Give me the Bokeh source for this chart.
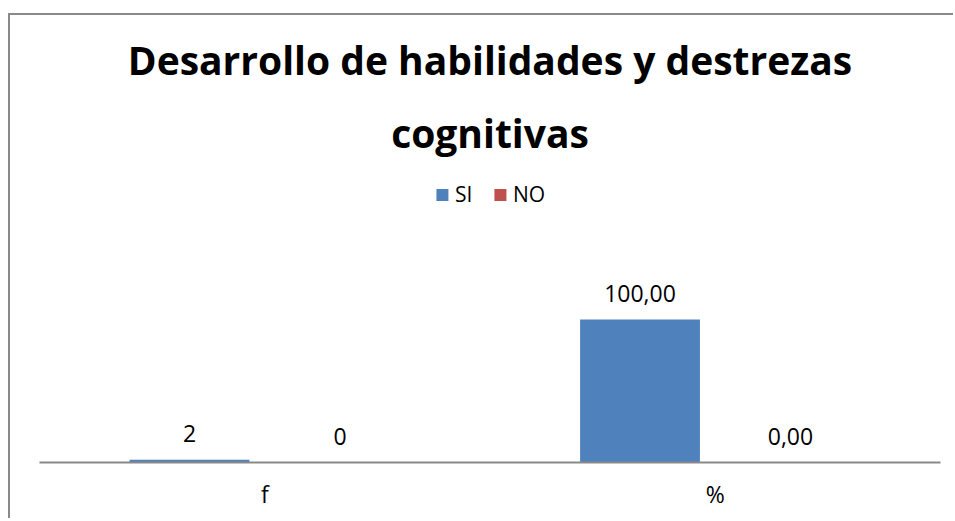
from bokeh.plotting import figure
from bokeh.models import (FactorRange, Range1d, ColumnDataSource, LabelSet, Legend,
                          LegendItem, Title)
from bokeh.core.properties import value
from bokeh.transform import dodge
from bokeh.embed import file_html
from bokeh.resources import INLINE

# ---- data ----
categories = ["f", "%"]
series_names = ["SI", "NO"]
si_values = [2, 100]
no_values = [0, 0]
si_labels = ["2", "100,00"]
no_labels = ["0", "0,00"]
title_lines = ["Desarrollo de habilidades y destrezas", "cognitivas"]

BLUE = "#4F81BD"
RED = "#C0504D"
GRAY = "#898989"
FONT = "Open Sans"

src = ColumnDataSource(dict(cat=categories, si=si_values, no=no_values,
                            si_lab=si_labels, no_lab=no_labels))

W, H = 945, 505
p = figure(width=W, height=H, x_range=FactorRange(*categories, range_padding=0),
           y_range=Range1d(0, 207.7), output_backend="svg", toolbar_location=None,
           min_border_left=29, min_border_right=15, min_border_top=150, min_border_bottom=58)
p.styles = {"position": "relative", "top": "15px", "left": "10px",
            "box-shadow": f"-2px -2px 0 0 {GRAY}"}

# titles (the one added last is the outermost)
t2 = Title(text=title_lines[1], align="center", text_font=FONT, text_font_style="bold",
           text_font_size="39px", text_color="black", standoff=14)
t1 = Title(text=title_lines[0], align="center", text_font=FONT, text_font_style="bold",
           text_font_size="39px", text_color="black", standoff=21)
p.title = None
p.add_layout(t2, "above")
p.add_layout(t1, "above")

p.outline_line_color = None
p.xgrid.visible = False
p.ygrid.visible = False
p.yaxis.visible = False

r_si = p.vbar(x=dodge("cat", -0.167, range=p.x_range), top="si", width=0.266,
              source=src, fill_color=BLUE, line_color=None)
r_no = p.vbar(x=dodge("cat", 0.167, range=p.x_range), top="no", width=0.266,
              source=src, fill_color=RED, line_color=None)

for col, lab, off in (("si", "si_lab", -0.167), ("no", "no_lab", 0.167)):
    p.add_layout(LabelSet(x=dodge("cat", off, range=p.x_range), y=col, text=lab,
                          source=src, text_align="center", text_baseline="alphabetic",
                          y_offset=18, text_font=value(FONT), text_font_size=value("23px"),
                          text_color="black"))

ax = p.xaxis[0]
ax.axis_line_color = GRAY
ax.axis_line_width = 2
ax.major_tick_line_color = None
ax.minor_tick_line_color = None
ax.major_label_text_font = FONT
ax.major_label_text_font_size = "23px"
ax.major_label_text_color = "black"
ax.major_label_standoff = 9

legend = Legend(items=[LegendItem(label=series_names[0], renderers=[r_si]),
                       LegendItem(label=series_names[1], renderers=[r_no])],
                location="top_center", orientation="horizontal",
                glyph_width=15, glyph_height=15, label_standoff=6, spacing=17,
                padding=0, margin=15, border_line_color=None, background_fill_alpha=0,
                label_text_font=FONT, label_text_font_size="21px", label_text_color="black")
p.add_layout(legend, "center")

open("out.html", "w").write(file_html(p, INLINE))
